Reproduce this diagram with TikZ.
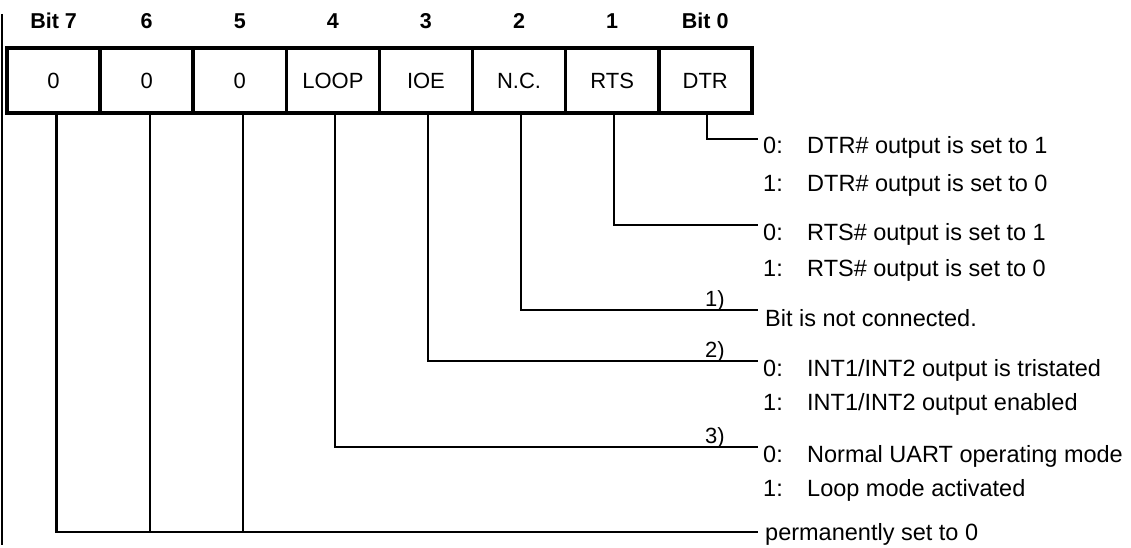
\documentclass[tikz,border=0pt]{standalone}
\usepackage{fontspec}
\setmainfont{Liberation Sans}
\begin{document}
\begin{tikzpicture}[x=1pt,y=-1pt,
  cell/.style={draw,line width=3.6pt,minimum width=93.1pt,minimum height=65pt,inner sep=0pt,font=\fontsize{22}{26}\selectfont},
  hdr/.style={inner sep=0pt,font=\fontsize{21.5}{26}\selectfont\bfseries},
  conn/.style={line width=2.3pt},
  desc/.style={anchor=base west,inner sep=0pt,font=\fontsize{23.5}{27}\selectfont},
  fn/.style={anchor=base,inner sep=0pt,font=\fontsize{22}{26}\selectfont}]
\useasboundingbox (0,0) rectangle (1131,548);
% scan edge line
\draw[line width=2pt] (2,14) -- (2,545);
% header
\foreach \n/\t [count=\i from 0] in {7/Bit 7,6/6,5/5,4/4,3/3,2/2,1/1,0/Bit 0}
  \node[hdr] (h\n) at (53.55+93.1*\i,21) {\t};
% cells
\foreach \n/\t [count=\i from 0] in {7/0,6/0,5/0,4/LOOP,3/IOE,2/N.C.,1/RTS,0/DTR}
  \node[cell] (c\n) at (53.55+93.1*\i,80.5) {\t};
% end points of connectors
\coordinate (e0) at (758,139);
\coordinate (e1) at (758,225);
\coordinate (e2) at (758,310);
\coordinate (e3) at (758,361);
\coordinate (e4) at (758,447);
\coordinate (e5) at (758,532);
% connectors
\draw[conn] ([xshift=2pt]c0.south) |- (e0);
\draw[conn] ([xshift=2pt]c1.south) |- (e1);
\draw[conn] ([xshift=2pt]c2.south) |- (e2);
\draw[conn] ([xshift=2pt]c3.south) |- (e3);
\draw[conn] ([xshift=2pt]c4.south) |- (e4);
\draw[conn] ([xshift=3pt]c7.south) |- (e5);
\draw[conn] ([xshift=3pt]c6.south) -- ([xshift=3pt]c6.south |- e5);
\draw[conn] ([xshift=3pt]c5.south) -- ([xshift=3pt]c5.south |- e5);
% footnote marks
\node[fn] (f1) at (715,306) {1)};
\node[fn] (f2) at (715,357) {2)};
\node[fn] (f3) at (715,443) {3)};
% descriptions
\node[desc] (n00) at (763,154) {0:};
\node[desc] (d00) at (807,154) {DTR\# output is set to 1};
\node[desc] (n01) at (763,191) {1:};
\node[desc] (d01) at (807,191) {DTR\# output is set to 0};
\node[desc] (n10) at (763,240) {0:};
\node[desc] (d10) at (807,240) {RTS\# output is set to 1};
\node[desc] (n11) at (763,276) {1:};
\node[desc] (d11) at (807,276) {RTS\# output is set to 0};
\node[desc] (d2) at (765,326) {Bit is not connected.};
\node[desc] (n30) at (763,376) {0:};
\node[desc] (d30) at (807,376) {INT1/INT2 output is tristated};
\node[desc] (n31) at (763,410) {1:};
\node[desc] (d31) at (807,410) {INT1/INT2 output enabled};
\node[desc] (n40) at (763,462) {0:};
\node[desc] (d40) at (807,462) {Normal UART operating mode};
\node[desc] (n41) at (763,496) {1:};
\node[desc] (d41) at (807,496) {Loop mode activated};
\node[desc] (d5) at (765,540) {permanently set to 0};
\end{tikzpicture}
\end{document}
